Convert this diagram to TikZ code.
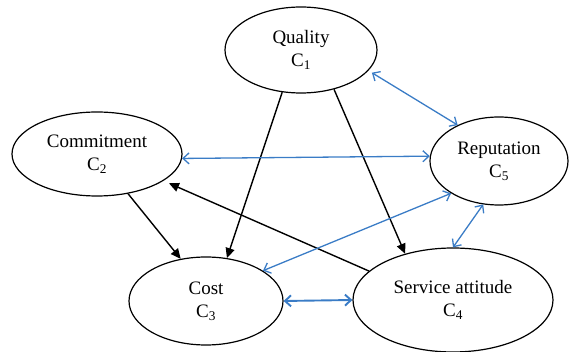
\documentclass[tikz,border=0pt]{standalone}
\usepackage{fontspec}
\setmainfont{Liberation Serif}
\usetikzlibrary{shapes.geometric,arrows.meta}
\definecolor{myblue}{HTML}{3A7CC6}
\tikzset{
  crit/.style={draw, ellipse, line width=1.2pt, inner sep=0pt, align=center,
    font=\fontsize{19}{23}\selectfont},
  blk/.style={line width=1.4pt, -{Triangle[length=10pt,width=9pt]}},
  blu/.style={line width=1.3pt, myblue, {Straight Barb[length=6pt,width=11pt]}-{Straight Barb[length=6pt,width=11pt]}}
}
\begin{document}
\begin{tikzpicture}[x=1pt,y=-1pt]
\useasboundingbox (0,0) rectangle (571,352);
\node[crit, minimum width=152pt, minimum height=86pt] (q) at (301,50) {Quality\\C\textsubscript{1}};
\node[crit, minimum width=170pt, minimum height=84pt] (cm) at (97,154) {Commitment\\C\textsubscript{2}};
\node[crit, minimum width=138pt, minimum height=88pt] (r) at (499,161) {Reputation\\C\textsubscript{5}};
\node[crit, minimum width=154pt, minimum height=88pt] (c) at (206,301) {Cost\\C\textsubscript{3}};
\node[crit, minimum width=200pt, minimum height=104pt] (s) at (453,300) {Service attitude\\C\textsubscript{4}};
% black arrows
\draw[blk] (q.-114) -- (c.64);
\draw[blk] (q.-50) -- (s.136);
\draw[blk] (cm.-52) -- (c.121);
\draw[blk, shorten >=6pt] (s.161) -- (cm.-22);
% blue double arrows
\draw[blu] (cm.-3) -- (r.176);
\draw[blu, shorten <=4pt] (q.-17) -- (r.139);
\draw[blu] (c.28) -- (r.-146);
\draw[blu] (r.-110) -- (s.north);
\draw[blu, line width=1.9pt] (c.east) -- (s.west);
\end{tikzpicture}
\end{document}
